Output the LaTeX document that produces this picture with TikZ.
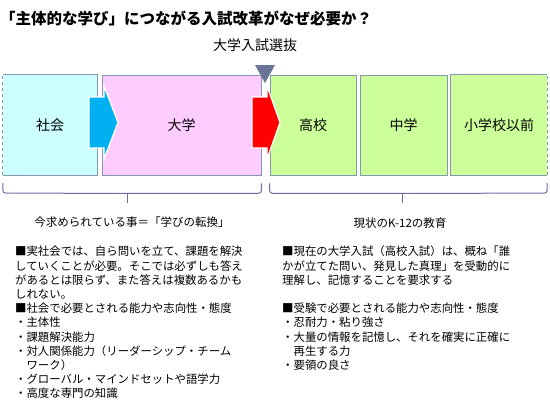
\documentclass[tikz,border=0pt]{standalone}
\usepackage{fontspec}
\setmainfont{Noto Sans CJK JP}
\usepackage{tikz}
\usetikzlibrary{positioning, calc}
\definecolor{shakaiFill}{HTML}{CCFFFF}
\definecolor{daigakuFill}{HTML}{FFCCFF}
\definecolor{kyoikuFill}{HTML}{CCFF99}
\definecolor{stageLine}{HTML}{8496B0}
\definecolor{arrowBlue}{HTML}{00B0F0}
\definecolor{arrowRed}{HTML}{FF0000}
\definecolor{markGray}{HTML}{6B7599}
\definecolor{braceLine}{HTML}{6E6E9E}
\newcommand{\stagearrow}[4]{\filldraw[fill=#4, draw=white, line width=1.2pt] (#1,97)--(#2,97)--(#2,86)--(#3,122.5)--(#2,159)--(#2,148)--(#1,148)--cycle;}

\begin{document}
\begin{tikzpicture}[x=1pt, y=-1pt, stage/.style={minimum height=100pt, inner sep=0pt, font=\fontsize{14}{16}\selectfont},sline/.style={draw=stageLine, line width=0.8pt},brace/.style={draw=braceLine, line width=1pt, rounded corners=3pt},heading/.style={inner sep=0pt, font=\fontsize{11.5}{13}\selectfont},memo/.style={inner sep=0pt, align=left, anchor=north west, font=\fontsize{11.4}{14.2}\selectfont}]
\useasboundingbox (0,0) rectangle (550,402);
\node[anchor=west, inner sep=0pt, font=\fontsize{15.5}{18}\selectfont\bfseries] (title) at (0,18) {「主体的な学び」につながる入試改革がなぜ必要か？};
\node[inner sep=0pt, font=\fontsize{14}{16}\selectfont] (senbatsu) at (255,45) {大学入試選抜};
% stages
\node[stage, fill=shakaiFill, minimum width=94pt] (shakai) at (50,125) {社会};
\draw[sline] (shakai.north west)--(shakai.north east)--(shakai.south east)--(shakai.south west); \draw[sline, dashed] (shakai.south west)--(shakai.north west);
\node[stage, sline, fill=daigakuFill, minimum width=159pt] (daigaku) at (181.5,125) {大学};
\node[stage, sline, fill=kyoikuFill, minimum width=86pt] (koko) at (313,125) {高校};
\node[stage, sline, fill=kyoikuFill, minimum width=87pt] (chugaku) at (403.5,125) {中学};
\node[stage, fill=kyoikuFill, minimum width=96pt] (shogakko) at (499,125) {小学校以前};
\draw[sline] (shogakko.north east)--(shogakko.north west)--(shogakko.south west)--(shogakko.south east); \draw[sline, dashed] (shogakko.south east)--(shogakko.north east);
\stagearrow{89}{104}{118}{arrowBlue}
\stagearrow{252}{267}{280}{arrowRed}
\fill[markGray] (255,65)--(275,65)--(265,83)--cycle;
% braces
\draw[brace] (shakai.south west)++(0,8)--++(0,10)--($(daigaku.south east)+(0,18)$)--++(0,-10); \draw[brace] (127,193)--(127,203);
\draw[brace] (koko.south west)++(0,8)--++(0,10)--($(shogakko.south east)+(0,18)$)--++(0,-10); \draw[brace] (402,193)--(402,203);
\node[heading] (tenkan) at (132,222) {今求められている事＝「学びの転換」};
\node[heading] (genjo) at (400,223) {現状のK-12の教育};
\node[memo] (hitsuyo) at (15,246) {■実社会では、自ら問いを立て、課題を解決\\していくことが必要。そこでは必ずしも答え\\があるとは限らず、また答えは複数あるかも\\しれない。\\■社会で必要とされる能力や志向性・態度\\・主体性\\・課題解決能力\\・対人関係能力（リーダーシップ・チーム\\　ワーク）\\・グローバル・マインドセットや語学力\\・高度な専門の知識};
\node[memo] (juken) at (282,246) {■現在の大学入試（高校入試）は、概ね「誰\\かが立てた問い、発見した真理」を受動的に\\理解し、記憶することを要求する\\[14.2pt]■受験で必要とされる能力や志向性・態度\\・忍耐力・粘り強さ\\・大量の情報を記憶し、それを確実に正確に\\　再生する力\\・要領の良さ};
\end{tikzpicture}
\end{document}
